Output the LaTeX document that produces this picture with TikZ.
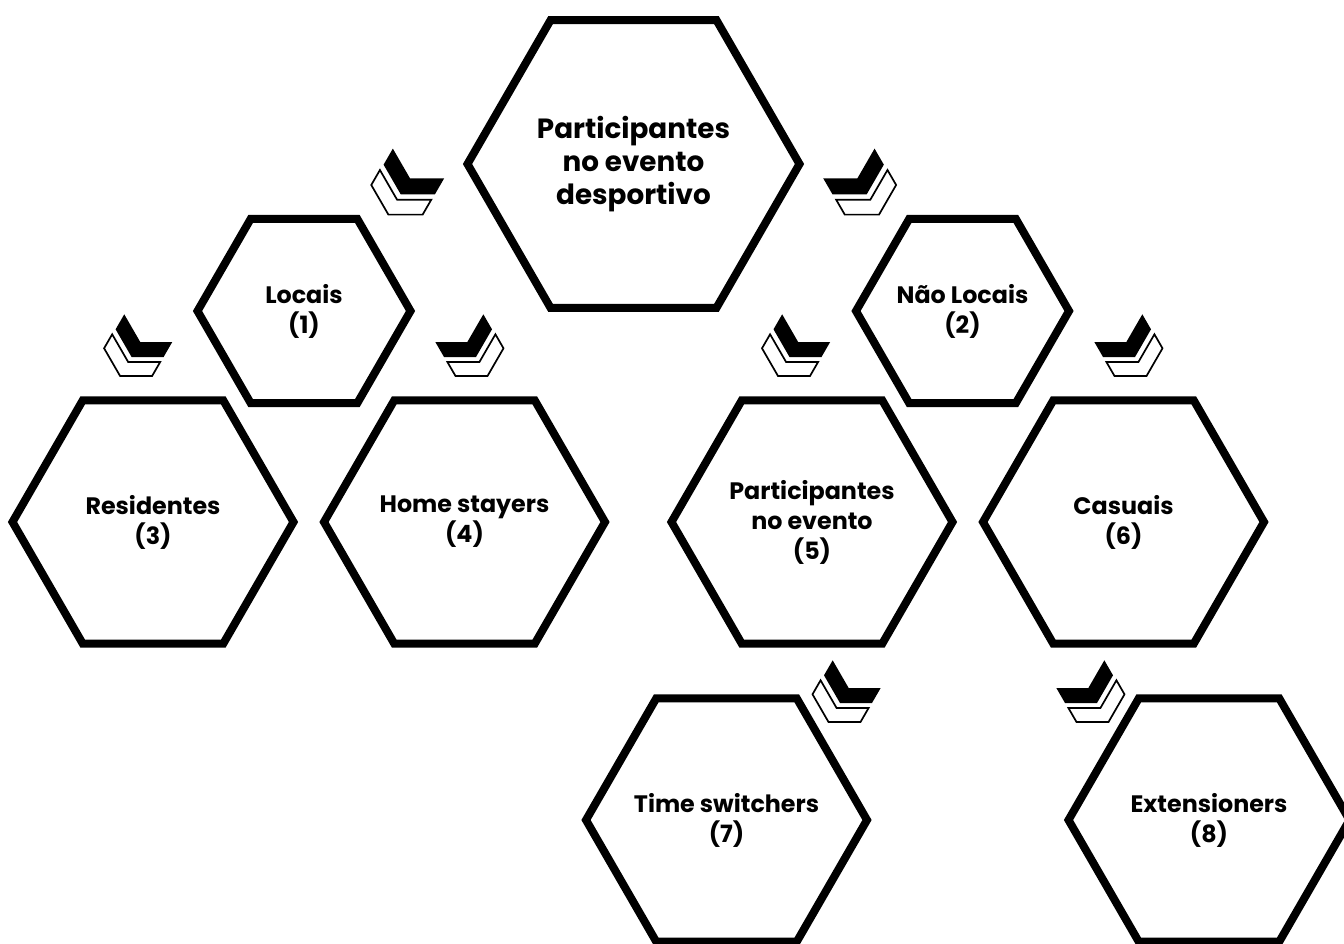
\documentclass[tikz,border=0pt]{standalone}
\usepackage{fontspec}
\setmainfont{Poppins}
\usetikzlibrary{shapes.geometric}

\begin{document}
\begin{tikzpicture}[x=0.5pt, y=-0.5pt,
    hexa/.style={regular polygon, regular polygon sides=6, draw, line width=4pt,
        inner ysep=0pt, inner xsep=-30pt, align=center, font=\bfseries\fontsize{11.9}{15}\selectfont},
    chevron/.pic={
        \draw[line width=0.85pt, fill=white] (-11.5,19) -- ++(32,0) -- ++(8.08,-14) -- ++(-32,0)
            -- ++(-16,-27.7) -- ++(-8.08,14) -- cycle;
        \fill (0,0) -- (32,0) -- (40.66,-15) -- (8.66,-15) -- (-7.34,-42.7) -- (-16,-27.7) -- cycle;
    }]
    \useasboundingbox (0,0) rectangle (1344,943);

    \node[hexa, minimum size=166pt, font=\bfseries\fontsize{13.9}{16.3}\selectfont] (main) at (633.5,164)
        {Participantes\\no evento\\desportivo};
    \node[hexa, minimum size=106.5pt] (loc) at (304,311) {Locais\\(1)};
    \node[hexa, minimum size=106.5pt] (nloc) at (962.5,311) {Não Locais\\(2)};
    \node[hexa, minimum size=140.5pt] (res) at (153,522) {Residentes\\(3)};
    \node[hexa, minimum size=140.5pt] (home) at (464.5,522) {Home stayers\\(4)};
    \node[hexa, minimum size=140.5pt] (part) at (812,522) {Participantes\\no evento\\(5)};
    \node[hexa, minimum size=140.5pt] (cas) at (1123.5,522) {Casuais\\(6)};
    \node[hexa, minimum size=140.5pt] (time) at (726.5,820) {Time switchers\\(7)};
    \node[hexa, minimum size=140.5pt] (ext) at (1209,820) {Extensioners\\(8)};

    \foreach \cx/\cy/\sx/\sc in {400.7/194.3/1/1.07, 866.7/194.3/-1/1.07,
        131.6/357/1/1, 476/357/-1/1, 789.5/357/1/1, 1135/357/-1/1,
        840/703/1/1, 1097/703/-1/1}
        \pic[scale=\sc, xscale=\sx] at (\cx,\cy) {chevron};
\end{tikzpicture}
\end{document}
